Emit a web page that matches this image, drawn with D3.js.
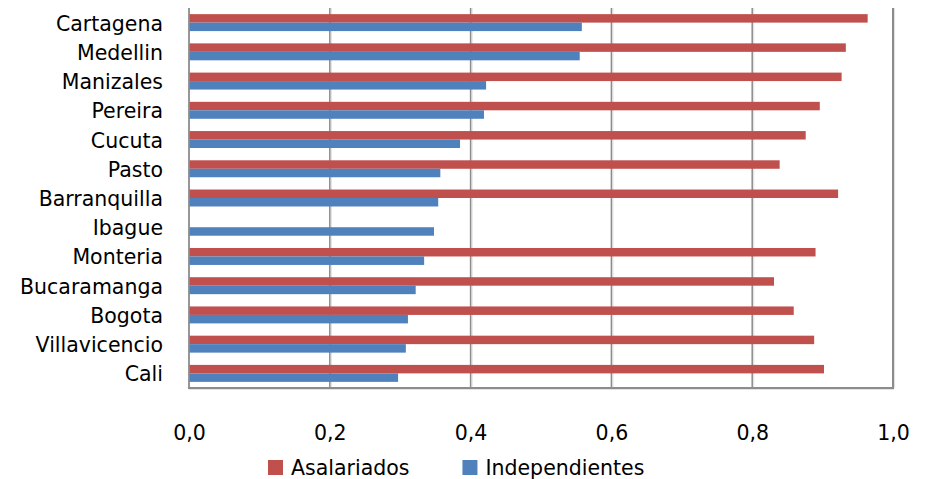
<!DOCTYPE html>
<html>
<head>
<meta charset="utf-8">
<script src="https://cdn.jsdelivr.net/npm/d3@7"></script>
<style>
  html, body { margin: 0; padding: 0; background: #fff; }
  svg { display: block; }
  text { font-family: "DejaVu Sans", sans-serif; fill: #000; }
</style>
</head>
<body>
<svg id="chart" width="926" height="479"></svg>
<script>
// ---- data (top to bottom as displayed) ----
const categories = ["Cartagena", "Medellin", "Manizales", "Pereira", "Cucuta", "Pasto",
  "Barranquilla", "Ibague", "Monteria", "Bucaramanga", "Bogota", "Villavicencio", "Cali"];
const asalariados = [0.964, 0.933, 0.927, 0.896, 0.876, 0.839, 0.922, null, 0.890, 0.831, 0.859, 0.888, 0.902];
const independientes = [0.558, 0.555, 0.422, 0.419, 0.385, 0.357, 0.354, 0.348, 0.334, 0.322, 0.311, 0.308, 0.297];
const seriesNames = ["Asalariados", "Independientes"];
const seriesColors = ["#C0504D", "#4F81BD"];
const xTicks = [0, 0.2, 0.4, 0.6, 0.8, 1.0];

const svg = d3.select("#chart");
const pLeft = 189, pRight = 893, pTop = 8, pBottom = 388;
const fontSize = 20.5;

const x = d3.scaleLinear().domain([0, 1]).range([pLeft, pRight]);
const y = d3.scaleBand().domain(categories).range([pTop, pBottom]).paddingInner(0.42).paddingOuter(0.21);
const ySub = d3.scaleBand().domain(seriesNames).range([0, y.bandwidth()]);

const locale = d3.formatLocale({ decimal: ",", thousands: ".", grouping: [3], currency: ["", ""] });
const fmt = locale.format(".1f");

// gridlines (with light shadow)
const grid = svg.append("g");
xTicks.filter(t => t > 0).forEach(t => {
  grid.append("line").attr("x1", x(t) + 1.5).attr("x2", x(t) + 1.5).attr("y1", pTop).attr("y2", pBottom)
    .attr("stroke", "#e3e3e3").attr("stroke-width", 1.2);
  grid.append("line").attr("x1", x(t)).attr("x2", x(t)).attr("y1", pTop).attr("y2", pBottom)
    .attr("stroke", "#8c8c8c").attr("stroke-width", t === 1 ? 2 : 1.5);
});

// bars
const data = categories.map((c, i) => ({ cat: c, vals: [asalariados[i], independientes[i]] }));
const groups = svg.append("g").selectAll("g").data(data).join("g")
  .attr("transform", d => `translate(0,${y(d.cat)})`);
groups.selectAll("rect")
  .data(d => d.vals.map((v, j) => ({ name: seriesNames[j], v, j })).filter(e => e.v != null))
  .join("rect")
  .attr("x", x(0))
  .attr("y", e => ySub(e.name))
  .attr("width", e => x(e.v) - x(0))
  .attr("height", ySub.bandwidth())
  .attr("fill", e => seriesColors[e.j]);

// axes
const xAxis = svg.append("g").attr("transform", `translate(0,${pBottom})`)
  .call(d3.axisBottom(x).tickValues(xTicks).tickFormat(fmt).tickSize(0).tickPadding(37));
xAxis.select(".domain").remove();
xAxis.selectAll("text").style("font-size", fontSize + "px").style("font-family", "DejaVu Sans");

const yAxis = svg.append("g").attr("transform", `translate(${pLeft},0)`)
  .call(d3.axisLeft(y).tickSize(0).tickPadding(26));
yAxis.select(".domain").remove();
yAxis.selectAll("text").attr("dy", "0.39em").style("font-size", fontSize + "px").style("font-family", "DejaVu Sans");

// axis lines
svg.append("line").attr("x1", pLeft).attr("x2", pRight + 1).attr("y1", pBottom + 1.5).attr("y2", pBottom + 1.5)
  .attr("stroke", "#e3e3e3").attr("stroke-width", 1.2);
svg.append("line").attr("x1", pLeft - 1).attr("x2", pRight + 1).attr("y1", pBottom).attr("y2", pBottom)
  .attr("stroke", "#8c8c8c").attr("stroke-width", 2);
svg.append("line").attr("x1", pLeft).attr("x2", pLeft).attr("y1", pTop).attr("y2", pBottom)
  .attr("stroke", "#8c8c8c").attr("stroke-width", 1.8);

// legend
const legend = svg.append("g");
const items = legend.selectAll("g").data(seriesNames).join("g");
items.append("rect").attr("width", 15).attr("height", 15).attr("y", 460)
  .attr("fill", (d, i) => seriesColors[i]);
items.append("text").attr("x", 23).attr("y", 475).text(d => d).style("font-size", fontSize + "px");
let cx = 268;
items.each(function () {
  const g = d3.select(this);
  g.attr("transform", `translate(${cx},0)`);
  const w = g.select("text").node().getComputedTextLength();
  cx += 23 + w + 53;
});
</script>
</body>
</html>
